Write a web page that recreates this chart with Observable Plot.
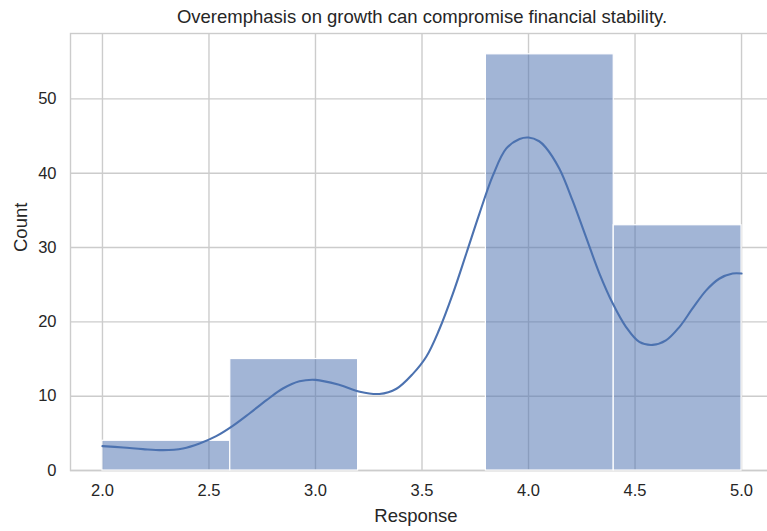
<!DOCTYPE html>
<html>
<head>
<meta charset="utf-8">
<script src="https://cdn.jsdelivr.net/npm/d3@7"></script>
<script src="https://cdn.jsdelivr.net/npm/@observablehq/plot@0.6"></script>
<style>
  html, body { margin: 0; padding: 0; overflow: hidden; background: #fff; }
  svg { display: block; max-width: none !important; }
</style>
</head>
<body>
<div id="chart"></div>
<script>
const title = "Overemphasis on growth can compromise financial stability.";
const xLabel = "Response";
const yLabel = "Count";

// Histogram bins
const binStart = [2.0, 2.6, 3.2, 3.8, 4.4];
const binEnd   = [2.6, 3.2, 3.8, 4.4, 5.0];
const counts   = [4, 15, 0, 56, 33];

// KDE curve
const kdeX = [2.0, 2.097, 2.19, 2.284, 2.378, 2.456, 2.534, 2.61, 2.69, 2.77, 2.847, 2.925, 3.0, 3.114, 3.208, 3.30, 3.38, 3.457, 3.52, 3.58, 3.645, 3.708, 3.77, 3.833, 3.895, 3.958, 4.0, 4.05, 4.08, 4.145, 4.207, 4.27, 4.333, 4.395, 4.458, 4.52, 4.583, 4.645, 4.708, 4.77, 4.833, 4.895, 4.958, 5.0];
const kdeY = [3.28, 3.1, 2.88, 2.74, 2.97, 3.64, 4.62, 5.97, 7.67, 9.46, 11.03, 12.0, 12.2, 11.5, 10.6, 10.3, 11.0, 13.0, 15.3, 18.9, 23.8, 29.2, 34.6, 39.7, 43.3, 44.6, 44.8, 44.3, 43.5, 40.6, 36.3, 31.4, 26.5, 22.5, 19.3, 17.3, 16.9, 17.5, 19.3, 21.8, 24.2, 25.8, 26.5, 26.5];

const xTicks = [2.0, 2.5, 3.0, 3.5, 4.0, 4.5, 5.0];
const yTicks = [0, 10, 20, 30, 40, 50];

const bins = binStart.map((s, i) => ({x1: s, x2: binEnd[i], y: counts[i]})).filter(d => d.y > 0);
const kde = kdeX.map((x, i) => ({x, y: kdeY[i]}));

const gridColor = "#cccccc";
const textColor = "#262626";

const plot = Plot.plot({
  width: 773,
  height: 531,
  marginLeft: 70,
  marginRight: 0,
  marginTop: 33,
  marginBottom: 61,
  style: {fontFamily: "'Liberation Sans', Arial, sans-serif", fontSize: "16.5px", color: textColor, background: "#fff", maxWidth: "none"},
  x: {domain: [1.85, 5.15]},
  y: {domain: [0, 58.8]},
  marks: [
    Plot.gridX(xTicks, {stroke: gridColor, strokeOpacity: 1, strokeWidth: 1.4}),
    Plot.gridY(yTicks, {stroke: gridColor, strokeOpacity: 1, strokeWidth: 1.4}),
    Plot.frame({stroke: gridColor, strokeWidth: 1.4}),
    Plot.rectY(bins, {x1: "x1", x2: "x2", y: "y", fill: "#4c72b0", fillOpacity: 0.52, stroke: "#ffffff", strokeWidth: 1.2, inset: 0}),
    Plot.line(kde, {x: "x", y: "y", curve: "catmull-rom", stroke: "#4c72b0", strokeWidth: 2.1}),
    Plot.axisX(xTicks, {tickSize: 0, tickPadding: 14, tickFormat: d3.format(".1f"), fontSize: 16.5, fill: textColor, label: null}),
    Plot.axisY(yTicks, {tickSize: 0, tickPadding: 14, fontSize: 16.5, fill: textColor, label: null}),
    Plot.text([title], {frameAnchor: "top", lineAnchor: "middle", dy: -16, fontSize: 18.5, fill: textColor}),
    Plot.text([xLabel], {frameAnchor: "bottom", lineAnchor: "middle", dy: 46, dx: -6, fontSize: 18.5, fill: textColor}),
    Plot.text([yLabel], {frameAnchor: "left", dx: -49, rotate: -90, fontSize: 18.5, fill: textColor})
  ]
});
document.getElementById("chart").appendChild(plot);
</script>
</body>
</html>
